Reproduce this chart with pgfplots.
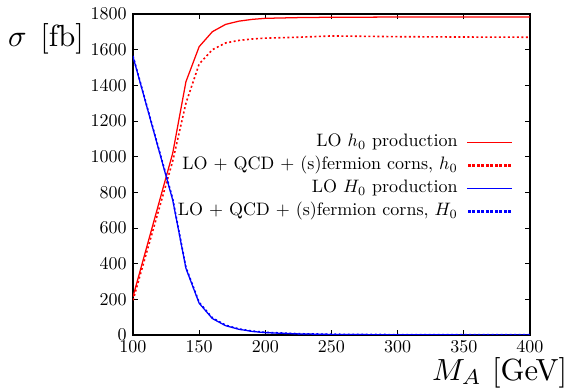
\documentclass[border=0pt]{standalone}
\usepackage{pgfplots}
\usepackage{graphicx}
\pgfplotsset{compat=1.18}
\tikzset{rdot/.style={draw=red, line width=0.9pt, dash pattern=on 1.1pt off 1.4pt},
         bdot/.style={draw=blue, line width=0.9pt, dash pattern=on 1.1pt off 1.4pt}}
\begin{document}
\begin{tikzpicture}
\begin{axis}[
  name=ax,
  scale only axis, width=220.56pt, height=178.33pt,
  xmin=100, xmax=400, ymin=0, ymax=1800,
  xtick={100,150,...,400}, ytick={0,200,...,1800},
  tick align=inside, major tick length=2.6pt,
  axis line style={line width=0.72pt},
  every tick/.style={black, line width=0.5pt},
  /pgf/number format/1000 sep={},
  tick label style={font=\normalsize},
  xlabel={\scalebox{1.7}{$M_A$ [GeV]}},
  xlabel style={at={([xshift=20.8pt,yshift=-25.2pt]rel axis cs:1,0)}, anchor=base east, inner sep=0pt},
  ylabel={\scalebox{1.7}{$\sigma$\hspace{0.45em}[fb]}},
  ylabel style={rotate=-90, at={([xshift=-69.6pt,yshift=-17.8pt]rel axis cs:0,1)}, anchor=base west, inner sep=0pt},
  legend cell align=right,
  legend plot pos=right,
  legend style={draw=none, fill=none, inner sep=0pt, at={(rel axis cs:0.958,0.632)}, anchor=north east,
    font=\normalsize, row sep=1.9pt, column sep=4.4pt,
    nodes={text height=7.2pt, text depth=2.5pt, inner sep=0.6pt}},
]
\addplot[color=red, line width=0.7pt, legend image code/.code={\draw[red, line width=0.7pt] (0pt,0pt) -- (25pt,0pt);}] coordinates {(100,215)(110,483)(120,751)(130,1019)(140,1420)(150,1617)(160,1701)(170,1742)(180,1760)(190,1770)(200,1776)(225,1780)(250,1782)(300,1783)(350,1783)(400,1783)};
\addlegendentry{LO $h_0$ production}
\addlegendimage{legend image code/.code={\foreach \i in {0,...,9} {\fill[red] (\i*2.5pt+0.5pt,-0.5pt) rectangle ++(1.2pt,1pt);}}}
\addlegendentry{LO + QCD + (s)fermion corns, $h_0$}
\addplot[rdot, forget plot] coordinates {(100,195)(110,455)(120,715)(130,975)(140,1300)(150,1520)(160,1600)(170,1638)(180,1652)(190,1660)(200,1665)(225,1670)(250,1677)(275,1675)(300,1673)(350,1671)(400,1670)};
\addplot[color=blue, line width=0.7pt, legend image code/.code={\draw[blue, line width=0.7pt] (0pt,0pt) -- (25pt,0pt);}] coordinates {(100,1561)(110,1293)(120,1025)(130,757)(140,374)(150,178)(160,92)(170,52)(180,32)(190,20)(200,13)(225,6)(250,3)(300,1)(350,0.5)(400,0.3)};
\addlegendentry{LO $H_0$ production}
\addlegendimage{legend image code/.code={\foreach \i in {0,...,9} {\fill[blue] (\i*2.5pt+0.5pt,-0.5pt) rectangle ++(1.2pt,1pt);}}}
\addlegendentry{LO + QCD + (s)fermion corns, $H_0$}
\addplot[bdot, forget plot] coordinates {(100,1565)(110,1297)(120,1030)(130,765)(140,380)(150,183)(160,96)(170,55)(180,34)(190,22)(200,15)(225,7)(250,4)(300,2)(350,1)(400,1)};
\end{axis}
\path (ax.south west) ++(-73.9pt,-30pt) rectangle ([xshift=21.7pt,yshift=7.8pt]ax.north east);
\end{tikzpicture}
\end{document}
